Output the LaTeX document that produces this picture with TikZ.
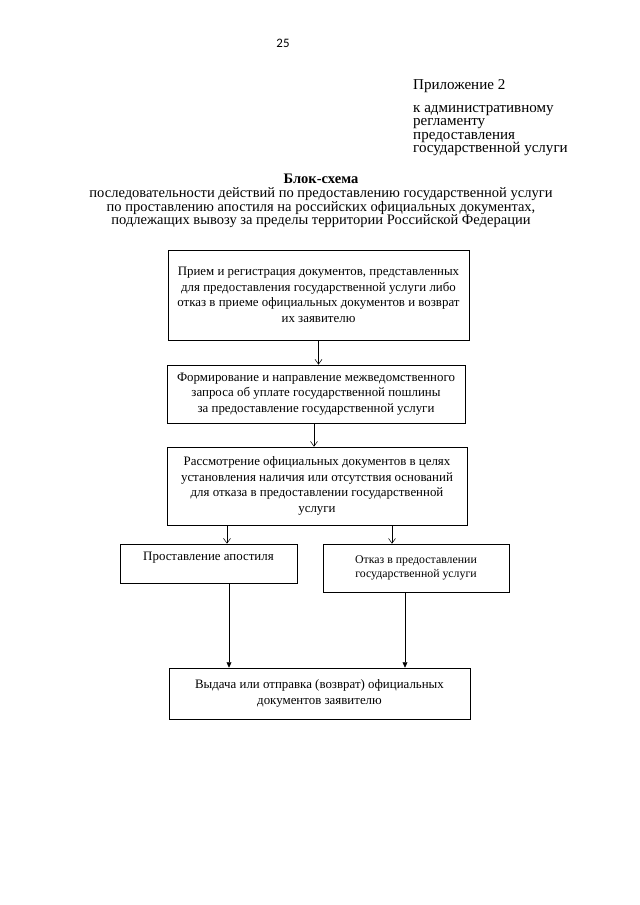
\documentclass[tikz,border=0pt]{standalone}
\usepackage{fontspec}
\setmainfont{Liberation Serif}
\newfontfamily\numfont{Carlito}
\usetikzlibrary{arrows.meta}

\begin{document}
\begin{tikzpicture}[
     x=0.93pt,y=-0.93pt,
     stage/.style={draw,line width=0.6pt,align=center,inner sep=3pt,
       font=\fontsize{12}{14.4}\selectfont},
     flow/.style={line width=0.5pt,-{Straight Barb[length=4.5pt,width=6.5pt]}},
     merge/.style={line width=0.6pt,-{Triangle[length=5pt,width=4.5pt]}},
     head/.style={font=\fontsize{14}{12.6}\selectfont,inner sep=0pt}
   ]
   \useasboundingbox (0,0) rectangle (640,905);
   % Page header.
   \node[font=\numfont\fontsize{12}{14}\selectfont] (page) at (283,43) {25};
   \node[head,anchor=base west] (annex) at (413,89) {Приложение 2};
   \node[head,anchor=north west,align=left] (rules) at (413,105)
     {к административному\\регламенту\\предоставления\\государственной услуги};
   \node[head,anchor=north,align=center,font=\fontsize{13.5}{12.4}\selectfont] (title) at (321,174)
     {\textbf{Блок-схема}\\[0.6pt]последовательности действий по предоставлению государственной услуги\\
      по проставлению апостиля на российских официальных документах,\\
      подлежащих вывозу за пределы территории Российской Федерации};
   % Steps.
   \node[stage,minimum width=280pt,minimum height=83.7pt] (recv) at (318.5,295)
     {Прием и регистрация документов, представленных\\для предоставления государственной услуги либо\\
      отказ в приеме официальных документов и возврат\\их заявителю};
   \node[stage,minimum width=277pt,minimum height=54pt] (query) at (316,394)
     {Формирование и направление межведомственного\\запроса об уплате государственной пошлины\\
      за предоставление государственной услуги};
   \node[stage,minimum width=279pt,minimum height=72.5pt] (check) at (317,486)
     {Рассмотрение официальных документов в целях\\установления наличия или отсутствия оснований\\
      для отказа в предоставлении государственной\\услуги};
   \node[stage,minimum width=164.6pt,inner ysep=0pt,text height=15.8pt,text depth=20.5pt] (apost) at (208.5,563.5)
     {Проставление апостиля};
   \node[stage,minimum width=173pt,minimum height=44.6pt,font=\fontsize{11}{13.6}\selectfont] (deny) at (416,568)
     {Отказ в предоставлении\\государственной услуги};
   \node[stage,minimum width=280pt,minimum height=47.4pt] (issue) at (319.5,693.5)
     {Выдача или отправка (возврат) официальных\\документов заявителю};
   % Connectors.
   \draw[flow] (recv.south) -- (recv.south |- query.north);
   \draw[flow] (query.south -| 314,0) -- (check.north -| 314,0);
   \draw[flow] (check.south -| 227,0) -- (apost.north -| 227,0);
   \draw[flow] (check.south -| 392,0) -- (deny.north -| 392,0);
   \draw[merge] (apost.south -| 229,0) -- (issue.north -| 229,0);
   \draw[merge] (deny.south -| 405,0) -- (issue.north -| 405,0);
 \end{tikzpicture}
\end{document}
